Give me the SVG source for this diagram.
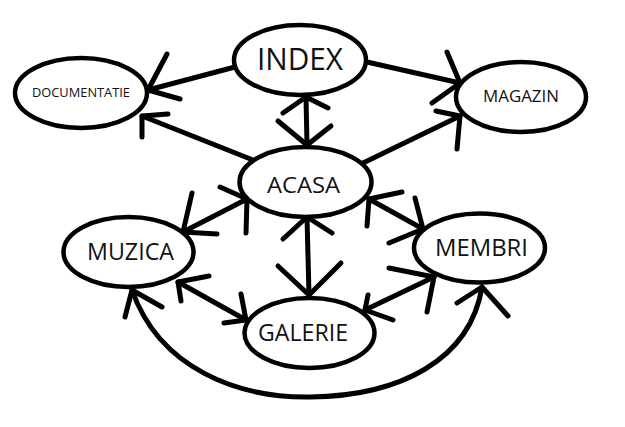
<svg xmlns="http://www.w3.org/2000/svg" width="625" height="427" viewBox="0 0 625 427">
<style>
.bg{fill:#fff}
.node ellipse{fill:#fff;stroke:#000;stroke-width:4.5}
.node text{font-family:"Open Sans","Liberation Sans",Arial,sans-serif;fill:#111}
.ln{fill:none;stroke:#000;stroke-width:5;stroke-linecap:round;stroke-linejoin:round}
</style>
<rect class="bg" x="0" y="0" width="625" height="427"/>
<g id="connectors" class="ln">
<path d="M235,67 L148,90"/><path d="M167,54 L148,90 L180,99"/>
<path d="M253,160 L142,116"/><path d="M168,114 L142,116 L142,137"/>
<path d="M367,62 L460,83"/><path d="M447,52 L460,83 L432,103"/>
<path d="M363,163 L460,116"/><path d="M436,111 L460,116 L457,149"/>
<path d="M306,97 L307,145"/><path d="M283,113 L306,97 L328,108"/><path d="M278,121 L307,145 L331,126"/>
<path d="M247,199 L183,232"/><path d="M192,193 L183,232 L217,234"/><path d="M220,187 L247,199 L246,233"/>
<path d="M307,217 L309,295"/><path d="M283,239 L307,217 L332,233"/><path d="M278,266 L309,295 L341,263"/>
<path d="M178,282 L246,320"/><path d="M209,276 L178,282 L181,301"/><path d="M241,294 L246,320 L224,323"/>
<path d="M369,199 L423,229"/><path d="M402,192 L369,199 L367,226"/><path d="M415,198 L423,229 L389,243"/>
<path d="M365,310 L434,277"/><path d="M368,295 L365,310 L393,320"/><path d="M389,268 L434,277 L427,312"/>
<path d="M132,290 C160,370 240,398 310,397 C400,396 470,360 482,287"/><path d="M125,317 L132,290 L162,307"/><path d="M457,303 L482,287 L508,316"/>
</g>
<g id="index" class="node"><ellipse cx="300" cy="60" rx="66" ry="35"/><text x="257" y="70" font-size="31" textLength="86" lengthAdjust="spacingAndGlyphs">INDEX</text></g>
<g id="documentatie" class="node"><ellipse cx="81" cy="93" rx="66" ry="35"/><text x="32" y="97" font-size="13" textLength="98" lengthAdjust="spacingAndGlyphs">DOCUMENTATIE</text></g>
<g id="magazin" class="node"><ellipse cx="521" cy="97" rx="65" ry="35"/><text x="483" y="102" font-size="17" textLength="76" lengthAdjust="spacingAndGlyphs">MAGAZIN</text></g>
<g id="acasa" class="node"><ellipse cx="305.5" cy="182" rx="66" ry="35"/><text x="267" y="193" font-size="22" textLength="73" lengthAdjust="spacingAndGlyphs">ACASA</text></g>
<g id="muzica" class="node"><ellipse cx="128.5" cy="252" rx="65" ry="35"/><text x="87" y="260" font-size="23.5" textLength="87" lengthAdjust="spacingAndGlyphs">MUZICA</text></g>
<g id="membri" class="node"><ellipse cx="479.5" cy="248" rx="65.5" ry="34.5"/><text x="435" y="256" font-size="23.5" textLength="93" lengthAdjust="spacingAndGlyphs">MEMBRI</text></g>
<g id="galerie" class="node"><ellipse cx="309.5" cy="333" rx="65" ry="35"/><text x="258" y="341" font-size="23.5" textLength="90" lengthAdjust="spacingAndGlyphs">GALERIE</text></g>
</svg>
